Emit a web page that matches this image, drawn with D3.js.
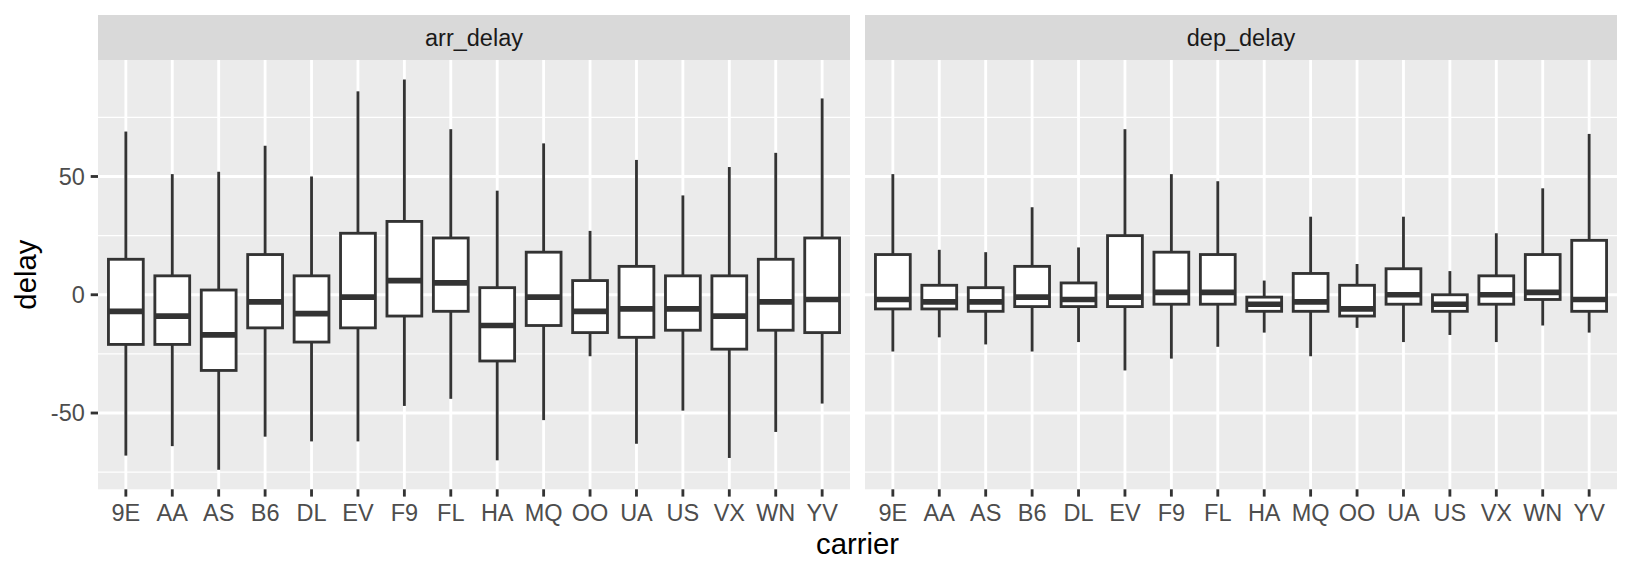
<!DOCTYPE html>
<html>
<head>
<meta charset="utf-8">
<script src="https://cdn.jsdelivr.net/npm/d3@7"></script>
<style>
	body { margin:0; background:#fff; }
	svg text { font-family: "Liberation Sans", Arial, Helvetica, sans-serif; }
</style>
</head>
<body>
<svg id="svg" width="1632" height="576"></svg>
<script>

// carriers on the x axis
var carriers = ["9E","AA","AS","B6","DL","EV","F9","FL","HA","MQ","OO","UA","US","VX","WN","YV"];

// facets
var facets = ["arr_delay","dep_delay"];

// arr_delay boxplot stats
var arrMax = [69, 51, 52, 63, 50, 86, 91, 70, 44, 64, 27, 57, 42, 54, 60, 83];
var arrQ3  = [15,  8,  2, 17,  8, 26, 31, 24,  3, 18,  6, 12,  8,  8, 15, 24];
var arrMed = [-7, -9,-17, -3, -8, -1,  6,  5,-13, -1, -7, -6, -6, -9, -3, -2];
var arrQ1  = [-21,-21,-32,-14,-20,-14, -9, -7,-28,-13,-16,-18,-15,-23,-15,-16];
var arrMin = [-68,-64,-74,-60,-62,-62,-47,-44,-70,-53,-26,-63,-49,-69,-58,-46];

// dep_delay boxplot stats
var depMax = [51, 19, 18, 37, 20, 70, 51, 48,  6, 33, 13, 33, 10, 26, 45, 68];
var depQ3  = [17,  4,  3, 12,  5, 25, 18, 17, -1,  9,  4, 11,  0,  8, 17, 23];
var depMed = [-2, -3, -3, -1, -2, -1,  1,  1, -4, -3, -6,  0, -4,  0,  1, -2];
var depQ1  = [-6, -6, -7, -5, -5, -5, -4, -4, -7, -7, -9, -4, -7, -4, -2, -7];
var depMin = [-24,-18,-21,-24,-20,-32,-27,-22,-16,-26,-14,-20,-17,-20,-13,-16];

// y axis ticks
var yTicks = [-50, 0, 50];
var yMinor = [-75, -25, 25, 75];


////////////////////////////
// layout (ggplot-ish at 192 dpi)

var panelTop = 60, panelBottom = 489.3;
var stripTop = 15;
var panelLefts = [98, 865];
var panelWidth = 752;
var lw = 2.84;          // 0.5mm line
var tickLen = 7.3;

var stats = {
	arr_delay: { max:arrMax, q3:arrQ3, med:arrMed, q1:arrQ1, min:arrMin },
	dep_delay: { max:depMax, q3:depQ3, med:depMed, q1:depQ1, min:depMin }
};

// shared y scale, continuous expansion 5%
var allVals = arrMax.concat(arrMin, depMax, depMin);
var lo = d3.min(allVals), hi = d3.max(allVals);
var pad = (hi - lo) * 0.05;
var y = d3.scaleLinear().domain([lo - pad, hi + pad]).range([panelBottom, panelTop]);

var svg = d3.select("#svg");

facets.forEach(function(facet, fi){

	var left = panelLefts[fi];
	var s = stats[facet];

	// discrete x with 0.6 expansion
	var x = d3.scalePoint().domain(carriers).range([left, left + panelWidth]).padding(0.6);
	var step = x.step();
	var bw = step * 0.75;

	var g = svg.append("g");

	// strip
	g.append("rect")
		.attr("x", left).attr("y", stripTop)
		.attr("width", panelWidth).attr("height", panelTop - stripTop)
		.attr("fill", "#D9D9D9");
	g.append("text")
		.attr("x", left + panelWidth / 2)
		.attr("y", (stripTop + panelTop) / 2)
		.attr("dy", "0.35em")
		.attr("text-anchor", "middle")
		.attr("font-size", "23.5px")
		.attr("fill", "#1A1A1A")
		.text(facet);

	// panel background
	g.append("rect")
		.attr("x", left).attr("y", panelTop)
		.attr("width", panelWidth).attr("height", panelBottom - panelTop)
		.attr("fill", "#EBEBEB");

	// grid
	g.selectAll("line.minor").data(yMinor).enter().append("line")
		.attr("x1", left).attr("x2", left + panelWidth)
		.attr("y1", function(d){ return y(d); }).attr("y2", function(d){ return y(d); })
		.attr("stroke", "#fff").attr("stroke-width", lw / 2);
	g.selectAll("line.major").data(yTicks).enter().append("line")
		.attr("x1", left).attr("x2", left + panelWidth)
		.attr("y1", function(d){ return y(d); }).attr("y2", function(d){ return y(d); })
		.attr("stroke", "#fff").attr("stroke-width", lw);
	g.selectAll("line.vmajor").data(carriers).enter().append("line")
		.attr("x1", function(d){ return x(d); }).attr("x2", function(d){ return x(d); })
		.attr("y1", panelTop).attr("y2", panelBottom)
		.attr("stroke", "#fff").attr("stroke-width", lw);

	// boxes
	var boxes = g.selectAll("g.box").data(carriers).enter().append("g");

	boxes.append("line")
		.attr("x1", function(d){ return x(d); }).attr("x2", function(d){ return x(d); })
		.attr("y1", function(d,i){ return y(s.q3[i]); }).attr("y2", function(d,i){ return y(s.max[i]); })
		.attr("stroke", "#333333").attr("stroke-width", lw);
	boxes.append("line")
		.attr("x1", function(d){ return x(d); }).attr("x2", function(d){ return x(d); })
		.attr("y1", function(d,i){ return y(s.q1[i]); }).attr("y2", function(d,i){ return y(s.min[i]); })
		.attr("stroke", "#333333").attr("stroke-width", lw);
	boxes.append("rect")
		.attr("x", function(d){ return x(d) - bw / 2; })
		.attr("y", function(d,i){ return y(s.q3[i]); })
		.attr("width", bw)
		.attr("height", function(d,i){ return y(s.q1[i]) - y(s.q3[i]); })
		.attr("fill", "#fff").attr("stroke", "#333333").attr("stroke-width", lw);
	boxes.append("line")
		.attr("x1", function(d){ return x(d) - bw / 2; }).attr("x2", function(d){ return x(d) + bw / 2; })
		.attr("y1", function(d,i){ return y(s.med[i]); }).attr("y2", function(d,i){ return y(s.med[i]); })
		.attr("stroke", "#333333").attr("stroke-width", lw * 2);

	// x axis ticks + labels
	g.selectAll("line.xt").data(carriers).enter().append("line")
		.attr("x1", function(d){ return x(d); }).attr("x2", function(d){ return x(d); })
		.attr("y1", panelBottom).attr("y2", panelBottom + tickLen)
		.attr("stroke", "#333333").attr("stroke-width", lw);
	g.selectAll("text.xl").data(carriers).enter().append("text")
		.attr("x", function(d){ return x(d); })
		.attr("y", panelBottom + tickLen + 5.9)
		.attr("dy", "0.8em")
		.attr("text-anchor", "middle")
		.attr("font-size", "23.5px")
		.attr("fill", "#4D4D4D")
		.text(function(d){ return d; });

	// y axis on first panel only
	if (fi === 0) {
		g.selectAll("line.yt").data(yTicks).enter().append("line")
			.attr("x1", left - tickLen).attr("x2", left)
			.attr("y1", function(d){ return y(d); }).attr("y2", function(d){ return y(d); })
			.attr("stroke", "#333333").attr("stroke-width", lw);
		g.selectAll("text.yl").data(yTicks).enter().append("text")
			.attr("x", left - tickLen - 5.9)
			.attr("y", function(d){ return y(d); })
			.attr("dy", "0.35em")
			.attr("text-anchor", "end")
			.attr("font-size", "23.5px")
			.attr("fill", "#4D4D4D")
			.text(function(d){ return d; });
	}
});

////////////////////////////
// axis titles

svg.append("text")
	.attr("x", (panelLefts[0] + panelLefts[1] + panelWidth) / 2)
	.attr("y", 554)
	.attr("text-anchor", "middle")
	.attr("font-size", "29.3px")
	.attr("fill", "#000")
	.text("carrier");

svg.append("text")
	.attr("transform", "translate(36," + ((panelTop + panelBottom) / 2) + ") rotate(-90)")
	.attr("text-anchor", "middle")
	.attr("font-size", "29.3px")
	.attr("fill", "#000")
	.text("delay");

</script>
</body>
</html>
